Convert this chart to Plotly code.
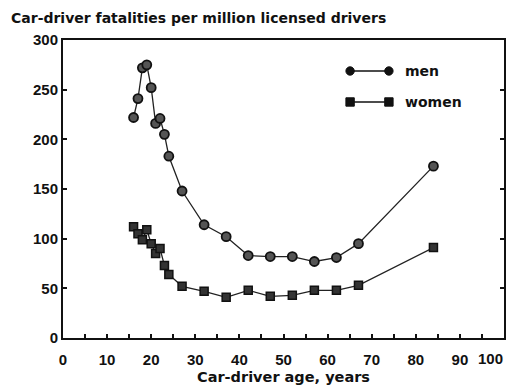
import plotly.graph_objects as go

ages = [16, 17, 18, 19, 20, 21, 22, 23, 24, 27, 32, 37, 42, 47, 52, 57, 62, 67, 84]
men = [222, 241, 272, 275, 252, 216, 221, 205, 183, 148, 114, 102, 83, 82, 82, 77, 81, 95, 173]
women = [112, 105, 99, 109, 95, 85, 90, 73, 64, 52, 47, 41, 48, 42, 43, 48, 48, 53, 91]
x_ticks = list(range(0, 101, 10))
y_ticks = list(range(0, 301, 50))
series_names = ["men", "women"]

TFONT = "DejaVu Sans"
NFONT = "Liberation Sans"
INK = "#111"

fig = go.Figure()
fig.add_trace(go.Scatter(
    x=ages, y=men, mode="lines+markers", name=series_names[0],
    line=dict(color="#222", width=1.3),
    marker=dict(symbol="circle", size=9, color="#555", line=dict(color="#111", width=1.8)),
    showlegend=False,
))
fig.add_trace(go.Scatter(
    x=ages, y=women, mode="lines+markers", name=series_names[1],
    line=dict(color="#222", width=1.3),
    marker=dict(symbol="square", size=8, color="#333", line=dict(color="#111", width=1.5)),
    showlegend=False,
))

# custom legend (markers at both ends of the line sample)
shapes = []
annotations = []
legend_rows = [(series_names[0], "circle", 0.896), (series_names[1], "square", 0.792)]
x0, x1 = 0.651, 0.739
for name, sym, yy in legend_rows:
    shapes.append(dict(type="line", xref="paper", yref="paper", x0=x0, x1=x1, y0=yy, y1=yy,
                       line=dict(color=INK, width=1.3)))
    for xc in (x0, x1):
        dx, dy = 4.2 / 441, 4.2 / 298
        shapes.append(dict(type="circle" if sym == "circle" else "rect", xref="paper", yref="paper",
                           x0=xc - dx, x1=xc + dx, y0=yy - dy, y1=yy + dy,
                           fillcolor=INK, line=dict(color=INK, width=1)))
    annotations.append(dict(text=name, xref="paper", yref="paper", x=0.771, y=yy,
                            xanchor="left", yanchor="middle", showarrow=False,
                            font=dict(family=TFONT, size=14, color=INK, weight="bold")))

annotations.append(dict(text="Car-driver fatalities per million licensed drivers",
                        xref="paper", yref="paper", x=-0.1224, y=1.074, xanchor="left",
                        yanchor="middle", showarrow=False,
                        font=dict(family=TFONT, size=14, color=INK, weight="bold")))

# last x tick label drawn right-aligned so it stays inside the page, as in the original
tick_text = [str(v) for v in x_ticks]
annotations.append(dict(text=tick_text[-1], xref="x", yref="paper", x=x_ticks[-1], y=0,
                        xanchor="right", yanchor="top", xshift=1, yshift=-10, showarrow=False,
                        font=dict(family=NFONT, size=15, color=INK, weight="bold")))
tick_text[-1] = ""

fig.update_layout(
    width=516, height=386,
    margin=dict(l=63, r=12, t=40, b=48),
    paper_bgcolor="white", plot_bgcolor="white",
    shapes=shapes, annotations=annotations,
    font=dict(family=NFONT, size=15, color=INK),
    xaxis=dict(
        range=[0, 100], tickvals=x_ticks, ticktext=tick_text, automargin=False,
        showgrid=False, zeroline=False, showline=True, linecolor=INK, linewidth=2,
        mirror=True, ticks="inside", ticklen=4, tickwidth=1.5, tickcolor=INK,
        minor=dict(dtick=5, ticks="inside", ticklen=4, tickwidth=1.5, tickcolor=INK),
        ticklabelstandoff=7,
        tickfont=dict(family=NFONT, size=15, color=INK, weight="bold"),
        title=dict(text="Car-driver age, years", standoff=5,
                   font=dict(family=TFONT, size=14.5, color=INK, weight="bold")),
    ),
    yaxis=dict(
        range=[0, 300], tickvals=y_ticks, ticktext=[str(v) for v in y_ticks], automargin=False,
        showgrid=False, zeroline=False, showline=True, linecolor=INK, linewidth=2,
        mirror="ticks", ticks="inside", ticklen=4, tickwidth=1.5, tickcolor=INK,
        tickfont=dict(family=NFONT, size=15, color=INK, weight="bold"),
    ),
)

fig.write_html("out.html")
